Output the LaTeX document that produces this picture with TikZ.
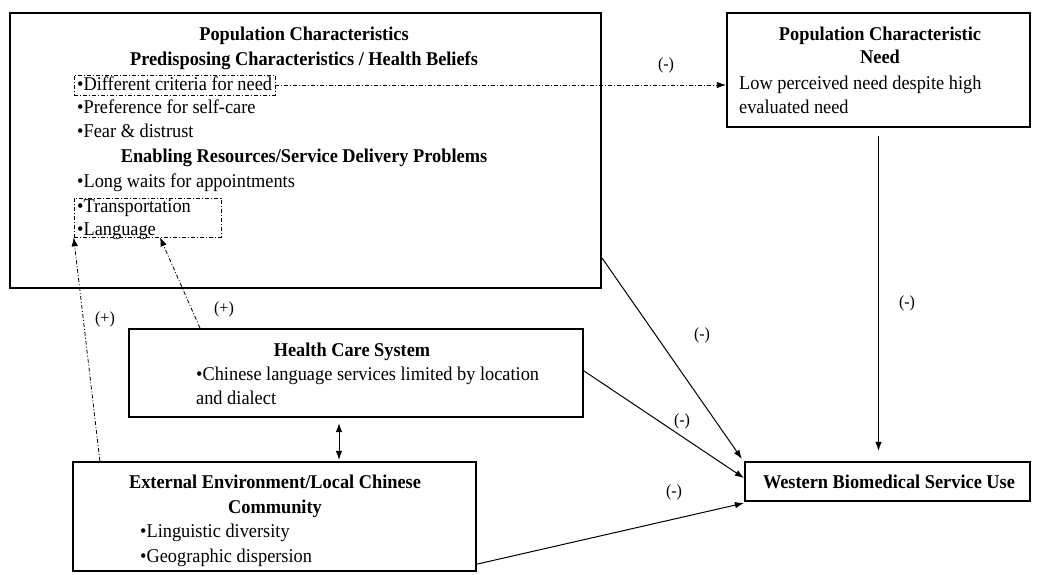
\documentclass[tikz,border=0pt]{standalone}
\usepackage{fontspec}
\setmainfont{Liberation Serif}
\usetikzlibrary{arrows.meta}
\begin{document}
\begin{tikzpicture}[x=1pt,y=-1pt,
 box/.style={draw,line width=2.2pt,inner sep=0pt},
 dbox/.style={draw,line width=0.6pt,dash pattern=on 4pt off 2pt on 1pt off 2pt,inner sep=0pt},
 hd/.style={font=\fontsize{19.5}{22}\selectfont\bfseries,inner sep=0pt,anchor=base,xscale=0.94},
 it/.style={font=\fontsize{19.5}{22}\selectfont,inner sep=0pt,anchor=base west,xscale=0.94},
 lbl/.style={font=\fontsize{17}{18}\selectfont,inner sep=0pt,xscale=0.94},
 conn/.style={line width=1pt,-{Latex[length=9pt,width=6.5pt]}},
 dconn/.style={line width=0.8pt,dash pattern=on 4pt off 2pt on 1pt off 2pt,-{Latex[length=9pt,width=6.5pt]}}]
\useasboundingbox (0,0) rectangle (1037,574);
% boxes
\node[box,minimum width=591pt,minimum height=275pt] (main) at (305.5,150.5) {};
\node[box,minimum width=303pt,minimum height=114pt] (need) at (878.5,70) {};
\node[box,minimum width=454pt,minimum height=88pt] (hcs) at (356,373) {};
\node[box,minimum width=403pt,minimum height=109pt] (ext) at (274.5,516.5) {};
\node[box,minimum width=285pt,minimum height=39pt] (west) at (887.5,481.5) {};
\node[dbox,minimum width=201pt,minimum height=20pt] (d1) at (174.5,85) {};
\node[dbox,minimum width=147pt,minimum height=39pt] (d2) at (147.5,217.5) {};
% main texts
\node[hd] (m1) at (304,40) {Population Characteristics};
\node[hd] (m2) at (304,65) {Predisposing Characteristics / Health Beliefs};
\node[it] (m3) at (77,90) {•Different criteria for need};
\node[it] (m4) at (77,113) {•Preference for self-care};
\node[it] (m5) at (77,137) {•Fear \& distrust};
\node[hd] (m6) at (304,162) {Enabling Resources/Service Delivery Problems};
\node[it] (m7) at (77,187) {•Long waits for appointments};
\node[it] (m8) at (77,212) {•Transportation};
\node[it] (m9) at (77,235) {•Language};
% need texts
\node[hd] (n1) at (880,40) {Population Characteristic};
\node[hd] (n2) at (880,63) {Need};
\node[it] (n3) at (739,89) {Low perceived need despite high};
\node[it] (n4) at (739,113) {evaluated need};
% hcs texts
\node[hd] (h1) at (352,356) {Health Care System};
\node[it] (h2) at (196,380) {•Chinese language services limited by location};
\node[it] (h3) at (196,404) {and dialect};
% ext texts
\node[hd] (e1) at (275,488) {External Environment/Local Chinese};
\node[hd] (e2) at (275,513) {Community};
\node[it] (e3) at (140,537) {•Linguistic diversity};
\node[it] (e4) at (140,562) {•Geographic dispersion};
% western
\node[hd] (w1) at (889,488) {Western Biomedical Service Use};
% connectors
\draw[dconn] (d1.east) -- (d1.east -| need.west);
\draw[conn] ([yshift=-8pt]need.south) -- ([yshift=10pt]need.south |- west.north);
\draw[conn] ([yshift=31pt]main.south east) -- ([xshift=-2pt,yshift=2pt]west.north west);
\draw[conn] ([yshift=2pt]hcs.east) -- ([yshift=3.5pt]west.west);
\draw[conn] ([yshift=8pt]ext.south east) -- ([yshift=-1pt]west.south west);
\draw[line width=1pt,{Latex[length=9pt,width=6.5pt]}-{Latex[length=9pt,width=6.5pt]}] ([xshift=-17pt,yshift=-5pt]hcs.south) -- ([xshift=-17pt,yshift=1pt]hcs.south |- ext.north);
\draw[dconn] ([xshift=28pt]ext.north west) -- (d2.south west);
\draw[dconn] ([xshift=72pt]hcs.north west) -- ([xshift=12.5pt]d2.south);
% labels
\node[lbl] (l1) at (666,65) {(-)};
\node[lbl] (l2) at (907,303) {(-)};
\node[lbl] (l3) at (702,335) {(-)};
\node[lbl] (l4) at (682,421) {(-)};
\node[lbl] (l5) at (674,492) {(-)};
\node[lbl] (l6) at (105,319) {(+)};
\node[lbl] (l7) at (224,309) {(+)};
\end{tikzpicture}
\end{document}
